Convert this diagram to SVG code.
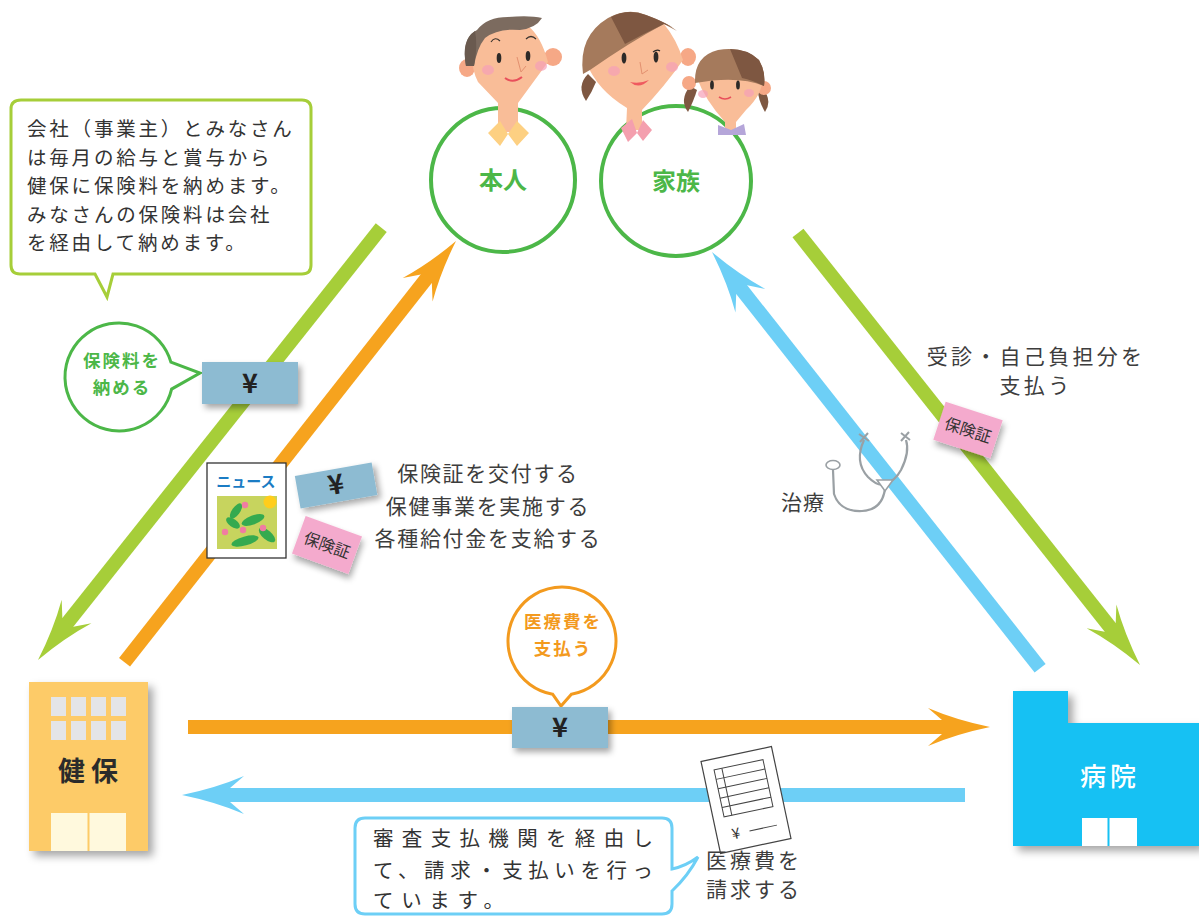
<svg xmlns="http://www.w3.org/2000/svg" xmlns:xlink="http://www.w3.org/1999/xlink" width="1199" height="916" viewBox="0 0 1199 916">
  <defs>
    <style>
      .t { font-family: "Noto Sans CJK JP", "Noto Sans", sans-serif; }
      .body { font-size: 21px; fill: #3d3d3d; }
      .call { font-size: 19.5px; fill: #333; letter-spacing: 2.8px; }
      .callb { font-size: 20.5px; fill: #333; }
      .yen { font-size: 27px; font-weight: 700; fill: #222; text-anchor: middle; }
      .card { fill: #f4aacd; }
      .cardtxt { font-size: 16px; fill: #333; text-anchor: middle; }
      .yenbox { fill: #8dbbd2; }
      .skin { fill: #f9bd98; }
      .ear { fill: #f6a886; }
      .cheek { fill: #f5a0b8; opacity: 0.7; }
      .eye { fill: #2d2a28; }
      .steth { fill: none; stroke: #9aa0a4; stroke-width: 2.2; }
      .ring { fill: #fff; stroke: #4cb748; stroke-width: 4; }
      .bub { font-size: 17.5px; font-weight: 700; text-anchor: middle; letter-spacing: 2px; }
    </style>
    <filter id="sh" x="-30%" y="-30%" width="170%" height="180%">
      <feDropShadow dx="3" dy="4" stdDeviation="3" flood-color="#000" flood-opacity="0.35"/>
    </filter>
    <filter id="shb" x="-20%" y="-20%" width="150%" height="150%">
      <feDropShadow dx="5" dy="5" stdDeviation="4" flood-color="#000" flood-opacity="0.35"/>
    </filter>
    <!-- swept-back arrowhead, tip at origin pointing to +x -->
    <path id="head" d="M0,0 Q-34,-7 -62,-19 L-48,-7 L-48,7 L-62,19 Q-34,7 0,0 Z"/>
  </defs>

  <rect width="1199" height="916" fill="#fff"/>

  <!-- connectors -->
  <g id="connectors">
    <!-- premiums: members to kenpo -->
    <g transform="translate(38,660) rotate(128.45)" fill="#a6ce39">
      <line x1="-552" y1="0" x2="-47" y2="0" stroke="#a6ce39" stroke-width="14"/>
      <use xlink:href="#head"/>
    </g>
    <!-- kenpo to members -->
    <g transform="translate(456,241) rotate(-51.8)" fill="#f6a31e">
      <line x1="-536" y1="0" x2="-47" y2="0" stroke="#f6a31e" stroke-width="14"/>
      <use xlink:href="#head"/>
    </g>
    <!-- hospital to members (treatment) -->
    <g transform="translate(712,252) rotate(-128.25)" fill="#6dcff6">
      <line x1="-530" y1="0" x2="-47" y2="0" stroke="#6dcff6" stroke-width="14"/>
      <use xlink:href="#head"/>
    </g>
    <!-- members to hospital (co-payment) -->
    <g transform="translate(1140,665) rotate(51.63)" fill="#a6ce39">
      <line x1="-551" y1="0" x2="-47" y2="0" stroke="#a6ce39" stroke-width="14"/>
      <use xlink:href="#head"/>
    </g>
    <!-- kenpo pays hospital -->
    <g transform="translate(990,727)" fill="#f6a31e">
      <line x1="-802" y1="0" x2="-47" y2="0" stroke="#f6a31e" stroke-width="14"/>
      <use xlink:href="#head"/>
    </g>
    <!-- hospital bills kenpo -->
    <g transform="translate(182,795) rotate(180)" fill="#6dcff6">
      <line x1="-783" y1="0" x2="-47" y2="0" stroke="#6dcff6" stroke-width="14"/>
      <use xlink:href="#head"/>
    </g>
  </g>

  <!-- insured person -->
  <g id="honnin">
    <circle class="ring" cx="503" cy="180" r="72"/>
    <text class="t" x="503" y="189" font-size="24" font-weight="700" fill="#4cb748" text-anchor="middle">本人</text>
  </g>

  <!-- family -->
  <g id="kazoku">
    <circle class="ring" cx="676" cy="181" r="75"/>
    <text class="t" x="676" y="190" font-size="24" font-weight="700" fill="#4cb748" text-anchor="middle">家族</text>
  </g>

  <!-- people -->
  <g id="people">
    <!-- father -->
    <ellipse class="ear" cx="467" cy="68" rx="8" ry="9"/>
    <ellipse class="ear" cx="553" cy="57" rx="9" ry="9"/>
    <path class="skin" d="M473 35 Q490 22 528 26 Q541 36 548 62 L518 103 L518 132 L498 132 L498 103 L478 82 Q469 65 473 35 Z"/>
    <path fill="#7c6b5f" d="M466 66 Q461 38 477 30 Q487 17 508 17 Q530 15 542 18 Q536 28 520 30 Q498 28 485 38 Q477 48 474 66 Z"/>
    <path fill="#6a5a4f" d="M466 66 Q461 40 475 31 Q478 45 474 66 Z"/>
    <path d="M491 42 Q495 36 500 41 M526 39 Q531 34 536 39" fill="none" stroke="#3a332e" stroke-width="1.2"/>
    <ellipse class="eye" cx="499" cy="58" rx="2.3" ry="5"/>
    <ellipse class="eye" cx="528" cy="56" rx="2.3" ry="5"/>
    <path d="M517 57 L521 72 L526 66" fill="none" stroke="#e3906f" stroke-width="1"/>
    <path d="M505 78 Q513 84 522 77" fill="none" stroke="#e8505b" stroke-width="2"/>
    <ellipse class="cheek" cx="488" cy="70" rx="6" ry="5"/>
    <ellipse class="cheek" cx="541" cy="66" rx="6" ry="5"/>
    <path fill="#fdd082" d="M488 133 L500 121 L508 134 L500 146 Z M508 134 L517 121 L529 133 L517 146 Z"/>

    <!-- mother -->
    <ellipse class="ear" cx="688" cy="57" rx="8" ry="9"/>
    <path class="skin" d="M586 62 Q625 40 664 24 Q677 40 683 60 Q665 86 642 110 L642 130 L626 130 L627 108 Q597 90 586 62 Z"/>
    <path fill="#a57a5c" d="M583 74 Q578 36 608 18 Q628 7 646 15 Q666 22 677 31 L664 24 Q630 42 590 70 Z"/>
    <path fill="#7e5741" d="M611 17 Q628 8 646 15 Q662 21 672 27 L664 24 Q645 33 625 44 Z"/>
    <path fill="#7e5741" d="M588 74 Q576 86 586 101 Q592 92 596 82 Z"/>
    <ellipse class="eye" cx="624" cy="58" rx="2.4" ry="5.5"/>
    <ellipse class="eye" cx="656" cy="57" rx="2.4" ry="5.5"/>
    <path d="M653 52 Q657 49 660 51" fill="none" stroke="#2d2a28" stroke-width="1.2"/>
    <path d="M640 62 L642 74 L648 70" fill="none" stroke="#e3906f" stroke-width="1"/>
    <path fill="#ef5a5f" d="M630 82 Q639 90 649 80 Q640 84 630 82 Z"/>
    <ellipse class="cheek" cx="614" cy="71" rx="6" ry="5"/>
    <ellipse class="cheek" cx="672" cy="67" rx="6" ry="5"/>
    <path fill="#f49fae" d="M621 128 L632 119 L637 133 L628 142 Z M637 133 L643 120 L652 130 L643 141 Z"/>

    <!-- daughter -->
    <path fill="#7e5741" d="M690 86 Q679 100 688 112 Q694 100 697 90 Z"/>
    <path fill="#7e5741" d="M762 88 Q773 100 765 112 Q758 100 758 90 Z"/>
    <ellipse class="ear" cx="689" cy="83" rx="7" ry="7"/>
    <ellipse class="ear" cx="764" cy="88" rx="7" ry="7"/>
    <path class="skin" d="M697 78 L763 78 Q762 95 746 110 L736 122 L736 132 L725 132 L725 122 Q705 100 697 78 Z"/>
    <path fill="#a57a5c" d="M695 83 Q694 56 718 50 Q744 46 759 60 Q766 72 764 86 Q738 75 695 83 Z"/>
    <path fill="#7e5741" d="M730 49 Q748 49 759 60 Q766 72 764 86 Q752 80 742 78 Z"/>
    <ellipse class="eye" cx="712" cy="85" rx="1.9" ry="4.5"/>
    <ellipse class="eye" cx="738" cy="85" rx="1.9" ry="4.5"/>
    <path d="M719 97 Q725 101 731 97" fill="none" stroke="#e8505b" stroke-width="1.6"/>
    <ellipse class="cheek" cx="703" cy="94" rx="5" ry="4"/>
    <ellipse class="cheek" cx="749" cy="93" rx="5" ry="4"/>
    <path fill="#b5a6d9" d="M718 125 L731 130 L744 124 L746 135 L718 135 Z"/>
  </g>

  <!-- note on premium payment -->
  <g id="note-premium">
    <path d="M21 100 H302 Q311 100 311 109 V265 Q311 274 302 274 H113 L107 297 L95 274 H20 Q11 274 11 265 V109 Q11 100 21 100 Z" fill="#fff" stroke="#a6ce39" stroke-width="3"/>
    <text class="t call" x="27" y="136">会社（事業主）とみなさん</text>
    <text class="t call" x="27" y="164.5">は毎月の給与と賞与から</text>
    <text class="t call" x="27" y="193">健保に保険料を納めます。</text>
    <text class="t call" x="27" y="221.5">みなさんの保険料は会社</text>
    <text class="t call" x="27" y="250">を経由して納めます。</text>
  </g>

  <!-- pay premiums bubble -->
  <g id="bubble-premium">
    <path d="M170.9 362.1 L200 373 L171.6 389.1 A54 54 0 1 1 170.9 362.1 Z" fill="#fff" stroke="#4cb748" stroke-width="3"/>
    <text class="t bub" x="122" y="367" fill="#4cb748">保険料を</text>
    <text class="t bub" x="122" y="394" fill="#4cb748">納める</text>
  </g>

  <g id="yen-premium">
    <rect class="yenbox" x="202" y="362" width="96" height="42" filter="url(#sh)"/>
    <text class="t yen" x="250" y="393">¥</text>
  </g>

  <!-- kenpo services -->
  <g id="news">
    <rect x="207" y="463" width="79" height="95" fill="#fff" stroke="#333" stroke-width="1.3"/>
    <text class="t" x="246" y="487" font-size="15" font-weight="700" fill="#1b7cc4" text-anchor="middle">ニュース</text>
    <rect x="217" y="496" width="60" height="53" fill="#c7d45e"/>
    <circle cx="270" cy="502" r="6.5" fill="#ffcd1c"/>
    <g fill="#35aa4f">
      <ellipse cx="236" cy="511" rx="9" ry="4" transform="rotate(-55 236 511)"/>
      <ellipse cx="253" cy="520" rx="12" ry="4.5" transform="rotate(-20 253 520)"/>
      <ellipse cx="233" cy="523" rx="8" ry="4" transform="rotate(35 233 523)"/>
      <ellipse cx="245" cy="541" rx="14" ry="4.5" transform="rotate(-15 245 541)"/>
      <ellipse cx="267" cy="535" rx="10" ry="4.5" transform="rotate(40 267 535)"/>
    </g>
    <g fill="#f07ca2">
      <circle cx="245" cy="505" r="3.2"/>
      <circle cx="225" cy="532" r="3.2"/>
      <circle cx="243" cy="530" r="3.2"/>
      <circle cx="263" cy="528" r="3.2"/>
    </g>
  </g>

  <g id="yen-card">
    <g transform="translate(336,485) rotate(-10)">
      <rect class="yenbox" x="-39" y="-16" width="78" height="33" filter="url(#sh)"/>
      <text class="t yen" x="0" y="9" font-size="22">¥</text>
    </g>
  </g>

  <g id="card-kenpo">
    <g transform="translate(327,545) rotate(20)">
      <rect class="card" x="-30" y="-20" width="60" height="40" filter="url(#sh)"/>
      <text class="t cardtxt" x="0" y="6">保険証</text>
    </g>
  </g>

  <g id="services" class="t body" text-anchor="middle" letter-spacing="1.7">
    <text x="488" y="481">保険証を交付する</text>
    <text x="488" y="514">保健事業を実施する</text>
    <text x="488" y="546">各種給付金を支給する</text>
  </g>

  <!-- co-payment -->
  <g id="copay" class="t body" text-anchor="middle" font-size="19" letter-spacing="3.3">
    <text x="1036" y="364">受診・自己負担分を</text>
    <text x="1036" y="393">支払う</text>
  </g>
  <g id="card-hospital">
    <g transform="translate(968,430) rotate(18)">
      <rect class="card" x="-30" y="-20" width="60" height="40" filter="url(#sh)"/>
      <text class="t cardtxt" x="0" y="6">保険証</text>
    </g>
  </g>

  <!-- treatment -->
  <g id="treatment">
    <path class="steth" d="M864 440 Q854 462 868 477 Q878 487 885 484 Q895 481 901 470 Q910 452 906 440"/>
    <path class="steth" d="M885 489 Q882 510 862 511 Q840 512 834 494 L833 470"/>
    <path d="M877 480 L893 480 L885 491 Z" fill="#fff" stroke="#9aa0a4" stroke-width="1.6"/>
    <ellipse cx="833" cy="465" rx="7" ry="4.5" fill="#fff" stroke="#9aa0a4" stroke-width="1.6"/>
    <path d="M859 434 L869 441 M868 433 L860 442" stroke="#9aa0a4" stroke-width="2"/>
    <path d="M901 433 L910 440 M909 432 L901 441" stroke="#9aa0a4" stroke-width="2"/>
    <text class="t body" x="781" y="510" letter-spacing="1">治療</text>
  </g>

  <!-- pay medical costs bubble -->
  <g id="bubble-pay">
    <path d="M571.4 694.2 L561 706 L552.6 694.2 A54 54 0 1 1 571.4 694.2 Z" fill="#fff" stroke="#f39a1e" stroke-width="3"/>
    <text class="t bub" x="563" y="628" fill="#f39a1e">医療費を</text>
    <text class="t bub" x="563" y="655" fill="#f39a1e">支払う</text>
  </g>

  <g id="yen-pay">
    <rect class="yenbox" x="512" y="707" width="96" height="41" filter="url(#sh)"/>
    <text class="t yen" x="560" y="737">¥</text>
  </g>

  <!-- kenpo building -->
  <g id="kenpo">
    <rect x="29" y="682" width="119" height="169" fill="#fdcb67" filter="url(#shb)"/>
    <g fill="#e4e5e7">
      <rect x="51" y="697" width="15" height="19"/>
      <rect x="71" y="697" width="15" height="19"/>
      <rect x="91" y="697" width="15" height="19"/>
      <rect x="111" y="697" width="15" height="19"/>
      <rect x="51" y="721" width="15" height="19"/>
      <rect x="71" y="721" width="15" height="19"/>
      <rect x="91" y="721" width="15" height="19"/>
      <rect x="111" y="721" width="15" height="19"/>
    </g>
    <text class="t" x="91" y="781" font-size="27" font-weight="700" fill="#2b2b2b" text-anchor="middle" letter-spacing="6">健保</text>
    <rect x="51" y="813" width="75" height="38" fill="#fff9dd"/>
    <line x1="88.5" y1="813" x2="88.5" y2="851" stroke="#fdcb67" stroke-width="2"/>
  </g>

  <!-- hospital -->
  <g id="hospital">
    <path d="M1013 691 H1068 V723 H1199 V846 H1013 Z" fill="#17c1f3" filter="url(#shb)"/>
    <text class="t" x="1110" y="786" font-size="26" font-weight="500" fill="#fff" text-anchor="middle" letter-spacing="4">病院</text>
    <rect x="1082" y="818" width="55" height="28" fill="#fff"/>
    <line x1="1108.5" y1="818" x2="1108.5" y2="846" stroke="#17c1f3" stroke-width="2"/>
  </g>

  <!-- medical bill -->
  <g id="bill">
    <g transform="translate(746,800) rotate(-12)">
      <rect x="-36" y="-47" width="72" height="94" fill="#fff" stroke="#444" stroke-width="1.2"/>
      <rect x="-25" y="-36" width="50" height="48" fill="none" stroke="#444" stroke-width="1"/>
      <line x1="-17" y1="-36" x2="-17" y2="12" stroke="#444" stroke-width="1"/>
      <line x1="-25" y1="-26.4" x2="25" y2="-26.4" stroke="#444" stroke-width="1"/>
      <line x1="-25" y1="-16.8" x2="25" y2="-16.8" stroke="#444" stroke-width="1"/>
      <line x1="-25" y1="-7.2" x2="25" y2="-7.2" stroke="#444" stroke-width="1"/>
      <line x1="-25" y1="2.4" x2="25" y2="2.4" stroke="#444" stroke-width="1"/>
      <text class="t" x="-21" y="36" font-size="15" fill="#333">¥</text>
      <line x1="-3" y1="31" x2="25" y2="31" stroke="#444" stroke-width="1"/>
    </g>
    <text class="t body" x="754" y="868" text-anchor="middle" font-size="18" letter-spacing="3">医療費を</text>
    <text class="t body" x="754" y="897" text-anchor="middle" font-size="18" letter-spacing="3">請求する</text>
  </g>

  <!-- note on claims route -->
  <g id="note-claims">
    <path d="M365 818 H662 Q672 818 672 828 V869 Q686 866 698 857 Q688 876 672 891 V904 Q672 914 662 914 H365 Q355 914 355 904 V828 Q355 818 365 818 Z" fill="#fff" stroke="#6dcff6" stroke-width="3"/>
    <text class="t callb" x="373" y="846" textLength="280" lengthAdjust="spacing">審査支払機関を経由し</text>
    <text class="t callb" x="373" y="878" textLength="280" lengthAdjust="spacing">て、請求・支払いを行っ</text>
    <text class="t callb" x="373" y="908" textLength="131" lengthAdjust="spacing">ています。</text>
  </g>
</svg>
